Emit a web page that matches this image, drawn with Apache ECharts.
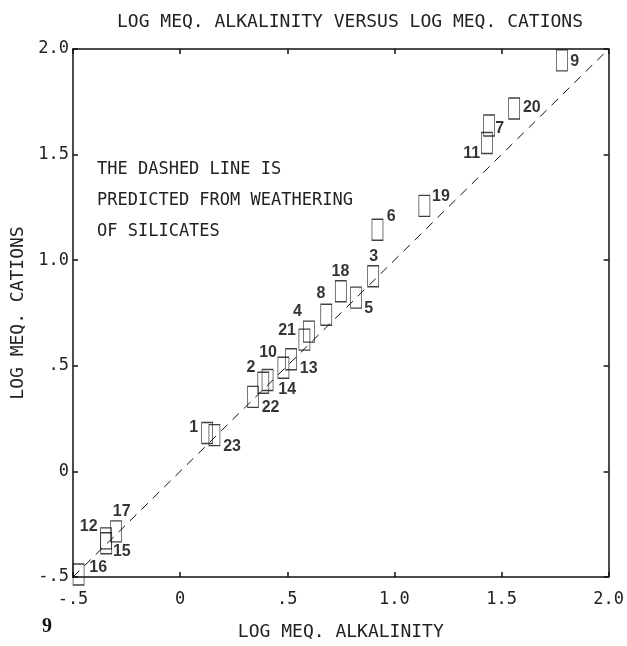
<!DOCTYPE html>
<html>
<head>
<meta charset="utf-8">
<script src="https://cdn.jsdelivr.net/npm/echarts@6/dist/echarts.min.js"></script>
<style>html,body{margin:0;padding:0;background:#fff}#c{width:627px;height:646px}</style>
</head>
<body>
<div id="c"></div>
<script>
// ---- data ----
const siteIds   = ['9','20','7','11','19','6','3','18','5','8','4','21','13','10','2','14','22','1','23','17','12','15','16'];
const alkalinity = [1.782,1.559,1.442,1.432,1.140,0.921,0.901,0.750,0.821,0.682,0.601,0.580,0.518,0.482,0.388,0.408,0.340,0.126,0.160,-0.299,-0.346,-0.345,-0.474];
const cations    = [1.946,1.718,1.638,1.555,1.257,1.144,0.924,0.853,0.823,0.742,0.662,0.624,0.531,0.491,0.420,0.433,0.353,0.182,0.172,-0.284,-0.317,-0.340,-0.488];
const predictedLine = [-0.5, 2.0];   // dashed line x = y (weathering of silicates)
const xTickLabels = ['-.5','0','.5','1.0','1.5','2.0'];
const yTickLabels = ['-.5','0','.5','1.0','1.5','2.0'];
const tickValues  = [-0.5,0,0.5,1.0,1.5,2.0];
const titleText = 'LOG MEQ. ALKALINITY VERSUS LOG MEQ. CATIONS';
const xName = 'LOG MEQ. ALKALINITY';
const yName = 'LOG MEQ. CATIONS';
const noteLines = ['THE DASHED LINE IS','PREDICTED FROM WEATHERING','OF SILICATES'];
const figNumber = '9';

// ---- label placement (style, px offsets from box centre) ----
const labelDx = [13,18,11,-15,17,14,1,0,13,-5,-11,-17,18,-15,-12,20,18,-13,18,6,-17,16,20];
const labelDy = [2,0,4,11,-9,-13,-19,-19,12,-20,-19,-8,10,-14,-14,10,11,-5,12,-19,-11,9,-6];

const mono = 'DejaVu Sans Mono';
const boxW = 11, boxH = 21;
function tickFmt(labels){ return v => { const i = tickValues.findIndex(t => Math.abs(t - v) < 1e-6); return i >= 0 ? labels[i] : ''; }; }

const points = siteIds.map((id,i) => ({
  name: id,
  value: [alkalinity[i], cations[i]],
  label: { position: [boxW / 2 + labelDx[i], boxH / 2 + labelDy[i]] }
}));

const axisCommon = {
  min: -0.5, max: 2.0, interval: 0.5,
  axisLine: { show: true, onZero: false, lineStyle: { color: '#111', width: 1.5 } },
  axisTick: { show: true, inside: true, length: 5, lineStyle: { color: '#111', width: 1.5 } },
  splitLine: { show: false }
};

const chart = echarts.init(document.getElementById('c'), null, { renderer: 'canvas' });
chart.setOption({
  animation: false,
  backgroundColor: '#fff',
  title: {
    text: titleText, left: 112, top: 8,
    textStyle: { fontFamily: mono, fontSize: 18, fontWeight: 'normal', color: '#222' }
  },
  grid: { left: 73, right: 16, top: 49, bottom: 69 },
  xAxis: [
    Object.assign({}, axisCommon, {
      type: 'value', position: 'bottom',
      name: xName, nameLocation: 'middle', nameGap: 46,
      nameTextStyle: { fontFamily: mono, fontSize: 18, color: '#222' },
      axisLabel: { formatter: tickFmt(xTickLabels), fontFamily: mono, fontSize: 17, color: '#222', margin: 14 }
    }),
    Object.assign({}, axisCommon, { type: 'value', position: 'top', axisLabel: { show: false } })
  ],
  yAxis: [
    Object.assign({}, axisCommon, {
      type: 'value', position: 'left',
      name: yName, nameLocation: 'middle', nameGap: 44, nameRotate: 90,
      nameTextStyle: { fontFamily: mono, fontSize: 18, color: '#222' },
      axisLabel: { formatter: tickFmt(yTickLabels), fontFamily: mono, fontSize: 17, color: '#222', margin: 4 }
    }),
    Object.assign({}, axisCommon, { type: 'value', position: 'right', axisLabel: { show: false } })
  ],
  graphic: [
    ...noteLines.map((t,i) => ({
      type: 'text', left: 97, top: 161 + i * 31,
      style: { text: t, fontFamily: mono, fontSize: 17, fill: '#222' }
    })),
    { type: 'text', left: 42, top: 617, style: { text: figNumber, fontFamily: 'Liberation Serif', fontWeight: 'bold', fontSize: 20, fill: '#111' } }
  ],
  series: [
    {
      type: 'line',
      data: predictedLine.map(v => [v, v]),
      symbol: 'none',
      lineStyle: { color: '#111', width: 1, type: [9, 7] },
      silent: true, z: 1
    },
    {
      type: 'scatter',
      data: points,
      symbol: 'rect',
      symbolSize: [boxW, boxH],
      itemStyle: { color: 'rgba(0,0,0,0)', borderColor: '#111', borderWidth: 1 },
      label: {
        show: true, formatter: '{b}',
        fontFamily: 'Liberation Sans', fontWeight: 'bold', fontSize: 16, color: '#000',
        align: 'center', verticalAlign: 'middle'
      },
      labelLayout: { hideOverlap: false },
      z: 3
    }
  ]
});
</script>
</body>
</html>
